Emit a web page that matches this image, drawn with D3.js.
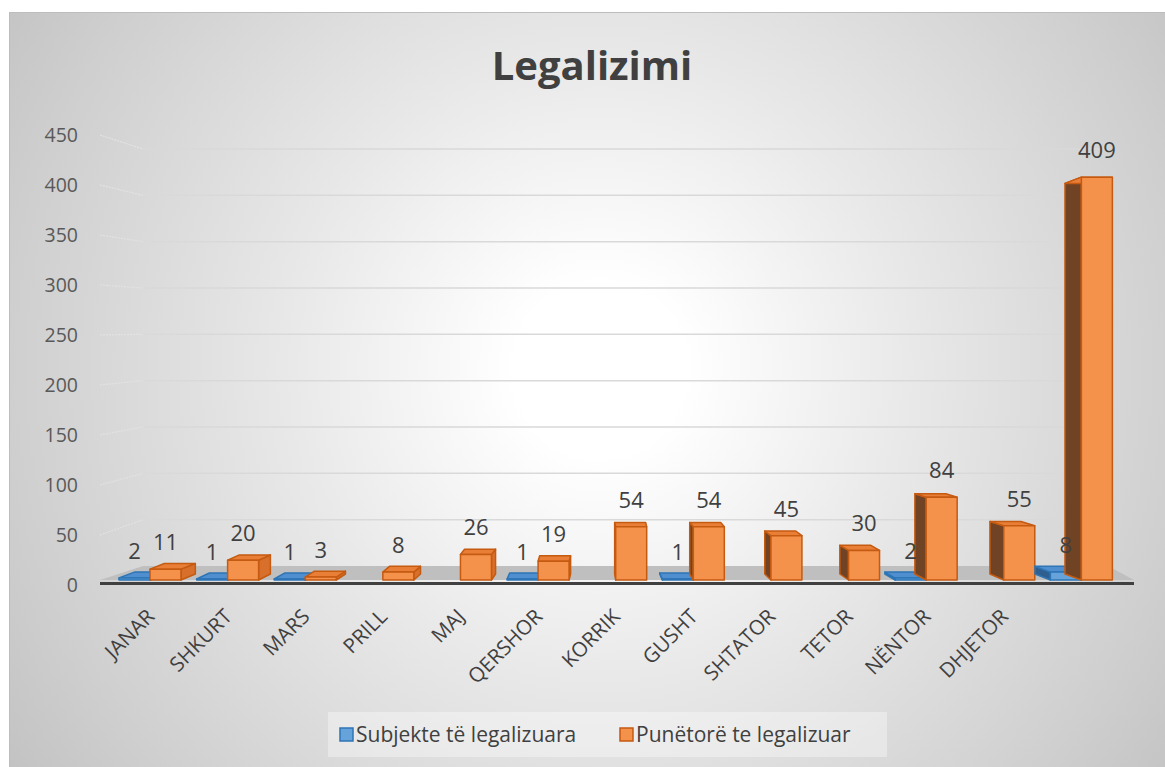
<!DOCTYPE html>
<html>
<head>
<meta charset="utf-8">
<script src="https://cdn.jsdelivr.net/npm/d3@7"></script>
<style>
  body { margin: 0; background: #fff; }
  text { font-family: "Open Sans", sans-serif; }
</style>
</head>
<body>
<svg id="chart" width="1165" height="767"></svg>
<script>
// Legalizimi - 3D style clustered column chart
const categories = ["JANAR", "SHKURT", "MARS", "PRILL", "MAJ", "QERSHOR", "KORRIK",
  "GUSHT", "SHTATOR", "TETOR", "NËNTOR", "DHJETOR", ""];
const seriesNames = ["Subjekte të legalizuara", "Punëtorë te legalizuar"];
const subjekte = [2, 1, 1, null, null, 1, null, 1, null, null, 2, null, 8];
const punetore = [11, 20, 3, 8, 26, 19, 54, 54, 45, 30, 84, 55, 409];
const yTicks = [0, 50, 100, 150, 200, 250, 300, 350, 400, 450];

const svg = d3.select("#chart");
const width = 1165, height = 767;

// background with radial gradient
const defs = svg.append("defs");
const grad = defs.append("radialGradient")
  .attr("id", "bg")
  .attr("gradientUnits", "userSpaceOnUse")
  .attr("cx", 600).attr("cy", 370).attr("r", 720);
[[0, "#ffffff"], [0.12, "#ffffff"], [0.44, "#e8e8e8"], [0.82, "#cfcfcf"], [1, "#c2c2c2"]]
  .forEach(([o, c]) => grad.append("stop").attr("offset", o).attr("stop-color", c));

svg.append("rect")
  .attr("x", 9.5).attr("y", 12.5)
  .attr("width", width).attr("height", height)
  .attr("fill", "url(#bg)")
  .attr("stroke", "#bdbdbd");

// title
svg.append("text")
  .attr("x", 592).attr("y", 80)
  .attr("text-anchor", "middle")
  .attr("font-size", 40)
  .attr("font-weight", "bold")
  .attr("fill", "#404040")
  .text("Legalizimi");

// scales
const x0 = d3.scaleBand().domain(categories.map((d, i) => i)).range([111, 1120]);
const x1 = d3.scaleBand().domain([0, 1]).range([8, 70]);
const yBar = d3.scaleLinear().domain([0, 450]).range([580, 580 - 450 * 0.985]);
const yAxis = d3.scaleLinear().domain([0, 450]).range([585, 135]);
const yBack = d3.scaleLinear().domain([0, 450]).range([566, 149]);

const wallFront = 100, wallBack = 143, wallRight = 1108, floorRight = 1134;

// side wall dotted lines + back wall gridlines
const grid = svg.append("g");
grid.selectAll("line.side")
  .data(yTicks.filter((d) => d > 0))
  .join("line")
  .attr("class", "side")
  .attr("x1", wallFront).attr("x2", wallBack)
  .attr("y1", (d) => yAxis(d)).attr("y2", (d) => yBack(d))
  .attr("stroke", "#e2e2e2")
  .attr("stroke-width", 1.2)
  .attr("stroke-dasharray", "2,1");
grid.selectAll("line.back")
  .data(yTicks.filter((d) => d > 0))
  .join("line")
  .attr("class", "back")
  .attr("x1", wallBack).attr("x2", wallRight)
  .attr("y1", (d) => yBack(d)).attr("y2", (d) => yBack(d))
  .attr("stroke", "#d9d9d9")
  .attr("stroke-width", 1.5);

// floor
svg.append("path")
  .attr("d", `M${wallFront},${yBar(0)} L${wallBack},${yBack(0)} L${wallRight},${yBack(0)} L${floorRight},${yBar(0)} Z`)
  .attr("fill", "#bfbfbf");
svg.append("line")
  .attr("x1", wallFront).attr("x2", floorRight)
  .attr("y1", yBar(0) + 3.5).attr("y2", yBar(0) + 3.5)
  .attr("stroke", "#404040")
  .attr("stroke-width", 3);

// y tick labels
svg.append("g")
  .selectAll("text")
  .data(yTicks)
  .join("text")
  .attr("x", 78)
  .attr("y", (d) => yAxis(d))
  .attr("dy", "0.35em")
  .attr("text-anchor", "end")
  .attr("font-size", 19.5)
  .attr("fill", "#595959")
  .text((d) => d);

// bars as pseudo 3D boxes
const styles = [
  { front: "#67a3db", top: "#4f8fcf", sideL: "#2f5f8f", sideR: "#4f8fcf", stroke: "#2e75b6" },
  { front: "#f4914b", top: "#e97f37", sideL: "#704325", sideR: "#d86f2b", stroke: "#c55a11" },
];
const vpX = 600;

const bars = [];
categories.forEach((c, i) => {
  [subjekte[i], punetore[i]].forEach((v, s) => {
    if (v == null) return;
    bars.push({ i, s, v });
  });
});

function boxParts(d) {
  const x = x0(d.i) + x1(d.s);
  const w = x1.bandwidth();
  const yT = yBar(d.v), yB = yBar(0);
  const dx = (vpX - (x + w / 2)) * 0.033;
  const dyB = -6;                 // back edge at the floor
  const dyT = -6 + d.v * 0.03;    // back edge at the top (drops for tall bars)
  const side = dx > 0
    ? `M${x + w},${yT} L${x + w + dx},${yT + dyT} L${x + w + dx},${yB + dyB} L${x + w},${yB} Z`
    : `M${x},${yT} L${x + dx},${yT + dyT} L${x + dx},${yB + dyB} L${x},${yB} Z`;
  const top = `M${x},${yT} L${x + w},${yT} L${x + w + dx},${yT + dyT} L${x + dx},${yT + dyT} Z`;
  return { x, w, yT, yB, dx, side, top };
}

const barG = svg.append("g");
bars.forEach((d) => {
  const p = boxParts(d);
  const st = styles[d.s];
  const g = barG.append("g").attr("stroke", st.stroke).attr("stroke-width", 1.5)
    .attr("stroke-linejoin", "round");
  g.append("path").attr("d", p.side).attr("fill", p.dx > 0 ? st.sideR : st.sideL);
  g.append("path").attr("d", p.top).attr("fill", st.top);
  g.append("rect")
    .attr("x", p.x).attr("y", p.yT)
    .attr("width", p.w).attr("height", Math.max(0, p.yB - p.yT))
    .attr("fill", st.front);
});

// value labels
svg.append("g")
  .selectAll("text")
  .data(bars)
  .join("text")
  .attr("x", (d) => x0(d.i) + x1(d.s) + x1.bandwidth() / 2)
  .attr("y", (d) => yBar(d.v) - 19)
  .attr("text-anchor", "middle")
  .attr("font-size", 22)
  .attr("fill", "#404040")
  .text((d) => d.v);

// category labels
svg.append("g")
  .selectAll("text")
  .data(categories)
  .join("text")
  .attr("transform", (d, i) => `translate(${x0(i) + x0.bandwidth() / 2 - 5},607) rotate(-45)`)
  .attr("dy", "0.75em")
  .attr("text-anchor", "end")
  .attr("font-size", 20.5)
  .attr("fill", "#404040")
  .text((d) => d);

// legend
const legend = svg.append("g");
legend.append("rect")
  .attr("x", 328).attr("y", 712).attr("width", 559).attr("height", 45)
  .attr("fill", "#ffffff").attr("fill-opacity", 0.35);
const legendX = [340, 620];
seriesNames.forEach((name, s) => {
  legend.append("rect")
    .attr("x", legendX[s]).attr("y", 728)
    .attr("width", 13).attr("height", 13)
    .attr("fill", styles[s].front)
    .attr("stroke", styles[s].stroke).attr("stroke-width", 1.5);
  legend.append("text")
    .attr("x", legendX[s] + 16).attr("y", 742)
    .attr("font-size", 21)
    .attr("fill", "#404040")
    .text(name);
});
</script>
</body>
</html>
